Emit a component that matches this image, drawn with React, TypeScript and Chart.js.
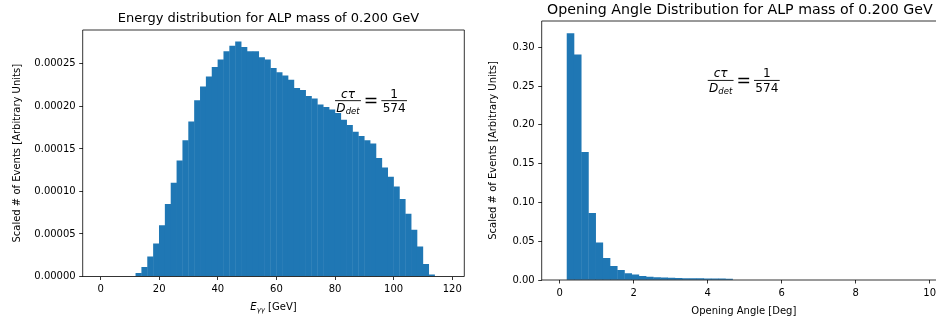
import React, { useEffect, useRef } from "react";
import { Chart, registerables } from "chart.js";

Chart.register(...registerables);
Chart.defaults.font.family = "'DejaVu Sans', sans-serif";

// ---------------- Data ----------------
// Left: energy histogram (2 GeV bins), bin centres in GeV
const energyBinCenters = [
  1, 3, 5, 7, 9, 11, 13, 15, 17, 19, 21, 23, 25, 27, 29, 31, 33, 35, 37, 39,
  41, 43, 45, 47, 49, 51, 53, 55, 57, 59, 61, 63, 65, 67, 69, 71, 73, 75, 77, 79,
  81, 83, 85, 87, 89, 91, 93, 95, 97, 99, 101, 103, 105, 107, 109, 111, 113, 115, 117,
];
const energyValues = [
  0, 0, 0, 0, 0, 0,
  0.39e-5, 1.09e-5, 2.34e-5, 3.87e-5, 6.0e-5, 8.5e-5, 11.0e-5, 13.6e-5, 16.0e-5, 18.2e-5,
  20.7e-5, 22.3e-5, 23.5e-5, 24.6e-5, 25.5e-5, 26.45e-5, 27.1e-5, 27.6e-5, 26.96e-5, 26.45e-5,
  26.45e-5, 25.75e-5, 25.5e-5, 24.5e-5, 24.0e-5, 23.6e-5, 23.1e-5, 22.15e-5, 21.9e-5, 21.2e-5,
  20.9e-5, 20.2e-5, 19.9e-5, 19.6e-5, 19.2e-5, 18.4e-5, 17.8e-5, 17.0e-5, 16.5e-5, 16.0e-5,
  15.6e-5, 13.9e-5, 12.8e-5, 11.7e-5, 10.55e-5, 9.1e-5, 7.35e-5, 5.47e-5, 3.5e-5, 1.44e-5,
  0.2e-5, 0, 0,
];
const energyXTicks = [0, 20, 40, 60, 80, 100, 120];
const energyYTicks = [0, 0.00005, 0.0001, 0.00015, 0.0002, 0.00025];
const energyXLimits = [-6.1, 124.1];

// Right: opening-angle histogram, bin centres in degrees
const angleBinCenters = [
  0.097, 0.292, 0.487, 0.682, 0.877, 1.071, 1.266, 1.461, 1.656, 1.851,
  2.045, 2.24, 2.435, 2.63, 2.825, 3.019, 3.214, 3.409, 3.604, 3.799,
  3.993, 4.188, 4.383, 4.578, 4.773, 4.967, 5.162, 5.357, 5.552, 5.747,
  5.941, 6.136, 6.331, 6.526, 6.721, 6.915, 7.11, 7.305, 7.5, 7.695,
  7.889, 8.084, 8.279, 8.474, 8.669, 8.863, 9.058, 9.253, 9.448, 9.643,
];
const angleValues = [
  0, 0.318, 0.2905, 0.1646, 0.086, 0.048, 0.028, 0.0177, 0.0125, 0.0086,
  0.0069, 0.005, 0.0038, 0.0032, 0.0029, 0.0025, 0.0023, 0.0021, 0.002, 0.0019,
  0.0018, 0.0017, 0.0016, 0.0015, 0, 0, 0, 0, 0, 0,
  0, 0, 0, 0, 0, 0, 0, 0, 0, 0,
  0, 0, 0, 0, 0, 0, 0, 0, 0, 0,
];
const angleXTicks = [0, 2, 4, 6, 8, 10];
const angleYTicks = [0, 0.05, 0.1, 0.15, 0.2, 0.25, 0.3];
const angleXLimits = [-0.487, 10.44];

const energyTitle = "Energy distribution for ALP mass of 0.200 GeV";
const angleTitle = "Opening Angle Distribution for ALP mass of 0.200 GeV";
const yAxisLabel = "Scaled # of Events [Arbitrary Units]";
const angleXLabel = "Opening Angle [Deg]";
const lifetimeDenominator = "574";

// annotation anchors (data coords, baseline of the math expression)
const energyAnnotation = { x: 80, y: 0.0002 };
const angleAnnotation = { x: 4, y: 0.25 };

const BAR_COLOR = "#1f77b4";
const FONT = "'DejaVu Sans'";

type Run = { t: string; italic?: boolean; size: number; dy?: number };

function runsWidth(ctx: CanvasRenderingContext2D, runs: Run[]) {
  let w = 0;
  for (const r of runs) {
    ctx.font = `${r.italic ? "italic " : ""}${r.size}px ${FONT}`;
    w += ctx.measureText(r.t).width;
  }
  return w;
}
function drawRuns(ctx: CanvasRenderingContext2D, runs: Run[], x: number, baseline: number) {
  let cx = x;
  for (const r of runs) {
    ctx.font = `${r.italic ? "italic " : ""}${r.size}px ${FONT}`;
    ctx.fillText(r.t, cx, baseline + (r.dy || 0));
    cx += ctx.measureText(r.t).width;
  }
  return cx;
}

function drawFraction(ctx: CanvasRenderingContext2D, x: number, barY: number, num: Run[], den: Run[]) {
  const pad = 1.3;
  const nw = runsWidth(ctx, num);
  const dw = runsWidth(ctx, den);
  const w = Math.max(nw, dw) + 2 * pad;
  ctx.fillRect(x, barY - 0.45, w, 0.9);
  drawRuns(ctx, num, x + (w - nw) / 2, barY - 3);
  drawRuns(ctx, den, x + (w - dw) / 2, barY + 11.6);
  return x + w;
}

function drawAnnotation(ctx: CanvasRenderingContext2D, x: number, baseline: number) {
  const big = 17.28;
  const small = 12.1;
  const barY = baseline - 5.7;
  ctx.fillStyle = "#000";
  ctx.textAlign = "left";
  ctx.textBaseline = "alphabetic";
  let cx = drawFraction(
    ctx, x, barY,
    [{ t: "cτ", italic: true, size: small }],
    [{ t: "D", italic: true, size: small }, { t: "det", italic: true, size: small * 0.7, dy: 2.2 }]
  );
  cx += 3;
  ctx.font = `${big}px ${FONT}`;
  ctx.fillText("=", cx, baseline);
  cx += ctx.measureText("=").width + 3;
  drawFraction(ctx, cx, barY, [{ t: "1", size: small }], [{ t: lifetimeDenominator, size: small }]);
}

type HistOpts = {
  centers: number[];
  values: number[];
  xLimits: number[];
  xTicks: number[];
  yTicks: number[];
  yDecimals: number;
  yAxisWidth: number;
  xAxisHeight: number;
  padTop: number;
  padRight: number;
  title: string;
  titleSize: number;
  titleCenterShift: number;
  titleGap: number;
  xLabel: Run[];
  xLabelBaselineOffset: number;
  yLabelOffset: number;
  annotation: { x: number; y: number };
};

function makeConfig(o: HistOpts): any {
  const yMax = Math.max(...o.values) * 1.05;
  const tickFont = { family: FONT, size: 10 };
  const gridOpts = {
    display: true,
    drawOnChartArea: false,
    drawTicks: true,
    tickLength: 3.5,
    color: "#000",
    lineWidth: 0.8,
    offset: false,
  };
  const decor = {
    id: "decor",
    afterDraw(chart: any) {
      const ctx: CanvasRenderingContext2D = chart.ctx;
      const a = chart.chartArea;
      ctx.save();
      // spines
      ctx.strokeStyle = "#000";
      ctx.lineWidth = 0.8;
      ctx.beginPath();
      ctx.moveTo(a.right, a.top);
      ctx.lineTo(a.left, a.top);
      ctx.lineTo(a.left, a.bottom);
      ctx.lineTo(a.right, a.bottom);
      if (a.right < chart.width) ctx.lineTo(a.right, a.top);
      ctx.stroke();
      // title
      ctx.fillStyle = "#000";
      ctx.font = `${o.titleSize}px ${FONT}`;
      ctx.textAlign = "center";
      ctx.textBaseline = "alphabetic";
      ctx.fillText(o.title, (a.left + a.right) / 2 + o.titleCenterShift, a.top - o.titleGap);
      // x label
      ctx.textAlign = "left";
      const xw = runsWidth(ctx, o.xLabel);
      drawRuns(ctx, o.xLabel, (a.left + a.right) / 2 - xw / 2, a.bottom + o.xLabelBaselineOffset);
      // y label
      ctx.save();
      ctx.translate(a.left - o.yLabelOffset, (a.top + a.bottom) / 2);
      ctx.rotate(-Math.PI / 2);
      ctx.font = `10px ${FONT}`;
      ctx.textAlign = "center";
      ctx.textBaseline = "middle";
      ctx.fillText(yAxisLabel, 0, 0);
      ctx.restore();
      // annotation
      const ax = chart.scales.x.getPixelForValue(o.annotation.x);
      const ay = chart.scales.y.getPixelForValue(o.annotation.y);
      drawAnnotation(ctx, ax, ay);
      ctx.restore();
    },
  };
  return {
    type: "bar",
    data: {
      datasets: [
        {
          data: o.centers.map((x, i) => ({ x, y: o.values[i] === 0 ? null : o.values[i] })),
          backgroundColor: BAR_COLOR,
          borderWidth: 0,
          inflateAmount: 0.2,
          barPercentage: 1,
          categoryPercentage: 1,
          grouped: false,
        },
      ],
    },
    options: {
      animation: false,
      responsive: false,
      devicePixelRatio: 1,
      layout: { padding: { top: o.padTop, right: o.padRight, left: 0, bottom: 0 } },
      plugins: { legend: { display: false }, tooltip: { enabled: false }, title: { display: false } },
      scales: {
        x: {
          type: "linear",
          min: o.xLimits[0],
          max: o.xLimits[1],
          offset: false,
          grid: gridOpts,
          border: { display: false },
          ticks: {
            font: tickFont,
            color: "#000",
            padding: 3.5,
            maxRotation: 0,
            autoSkip: false,
            callback: (v: number) => String(v),
          },
          afterBuildTicks: (s: any) => {
            s.ticks = o.xTicks.map((v) => ({ value: v }));
          },
          afterFit: (s: any) => {
            s.height = o.xAxisHeight;
          },
        },
        y: {
          type: "linear",
          min: 0,
          max: yMax,
          grid: gridOpts,
          border: { display: false },
          ticks: {
            font: tickFont,
            color: "#000",
            padding: 3.5,
            autoSkip: false,
            callback: (v: number) => v.toFixed(o.yDecimals),
          },
          afterBuildTicks: (s: any) => {
            s.ticks = o.yTicks.map((v) => ({ value: v }));
          },
          afterFit: (s: any) => {
            s.width = o.yAxisWidth;
          },
        },
      },
    },
    plugins: [decor],
  };
}

export default function App() {
  const leftRef = useRef<HTMLCanvasElement>(null);
  const rightRef = useRef<HTMLCanvasElement>(null);

  useEffect(() => {
    const left = new Chart(
      leftRef.current as HTMLCanvasElement,
      makeConfig({
        centers: energyBinCenters,
        values: energyValues,
        xLimits: energyXLimits,
        xTicks: energyXTicks,
        yTicks: energyYTicks,
        yDecimals: 5,
        yAxisWidth: 82.7,
        xAxisHeight: 50.5,
        padTop: 30,
        padRight: 5.7,
        title: energyTitle,
        titleSize: 13,
        titleCenterShift: -5,
        titleGap: 8,
        xLabel: [
          { t: "E", italic: true, size: 10 },
          { t: "γγ", italic: true, size: 7, dy: 2 },
          { t: " [GeV]", size: 10 },
        ],
        xLabelBaselineOffset: 33.5,
        yLabelOffset: 65.7,
        annotation: energyAnnotation,
      })
    );
    const right = new Chart(
      rightRef.current as HTMLCanvasElement,
      makeConfig({
        centers: angleBinCenters,
        values: angleValues,
        xLimits: angleXLimits,
        xTicks: angleXTicks,
        yTicks: angleYTicks,
        yDecimals: 2,
        yAxisWidth: 71.7,
        xAxisHeight: 47,
        padTop: 21,
        padRight: 4,
        title: angleTitle,
        titleSize: 14.2,
        titleCenterShift: -4,
        titleGap: 7,
        xLabel: [{ t: angleXLabel, size: 10 }],
        xLabelBaselineOffset: 33.5,
        yLabelOffset: 48.4,
        annotation: angleAnnotation,
      })
    );
    return () => {
      left.destroy();
      right.destroy();
    };
  }, []);

  return (
    <div
      style={{
        position: "absolute",
        left: 0,
        top: 0,
        width: 936,
        height: 327,
        overflow: "hidden",
        background: "#fff",
      }}
    >
      <div style={{ position: "absolute", left: 0, top: 0, width: 470, height: 327 }}>
        <canvas ref={leftRef} width={470} height={327} style={{ display: "block" }} />
      </div>
      <div style={{ position: "absolute", left: 470, top: 0, width: 480, height: 327 }}>
        <canvas ref={rightRef} width={480} height={327} style={{ display: "block" }} />
      </div>
    </div>
  );
}
